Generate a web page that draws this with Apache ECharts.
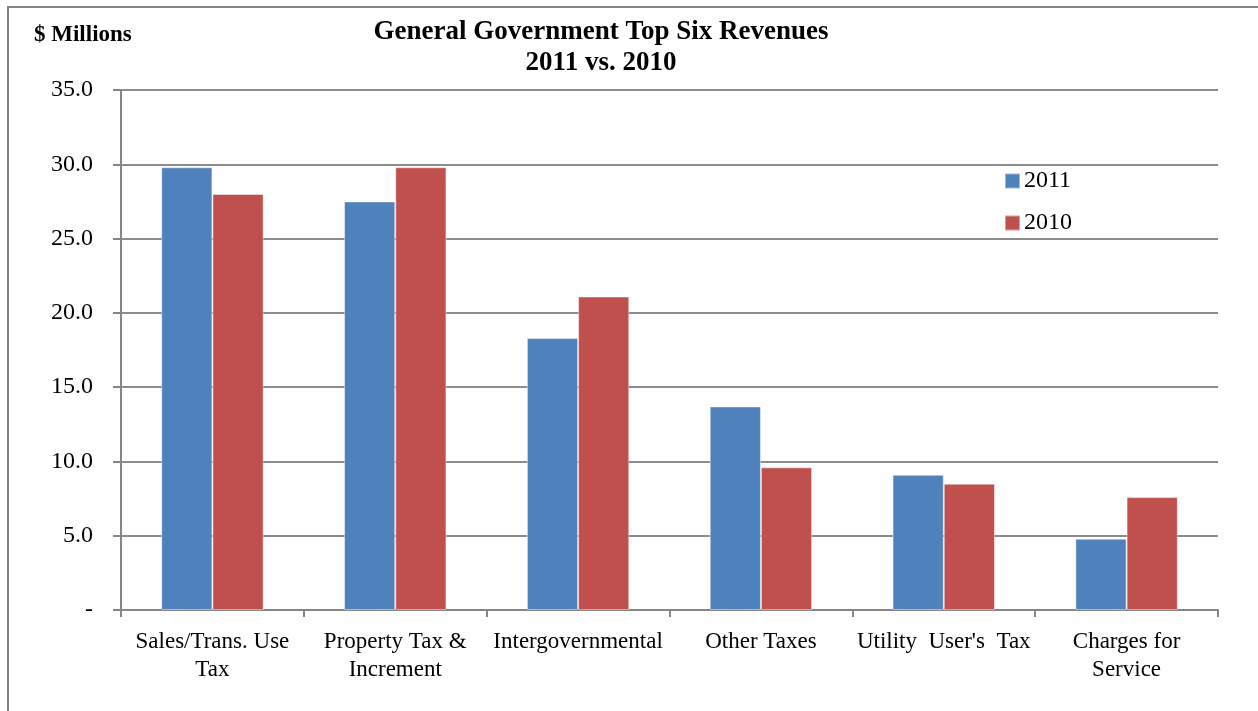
<!DOCTYPE html>
<html>
<head>
<meta charset="utf-8">
<script src="https://cdn.jsdelivr.net/npm/echarts@6/dist/echarts.min.js"></script>
<style>
  html, body { margin: 0; padding: 0; background: #fff; }
  #chart { width: 1258px; height: 711px; }
</style>
</head>
<body>
<div id="chart"></div>
<script>
// Revenue categories (x axis)
const categories = [
  'Sales/Trans. Use\nTax',
  'Property Tax &\nIncrement',
  'Intergovernmental',
  'Other Taxes',
  'Utility  User\'s  Tax',
  'Charges for\nService'
];
// Revenue in $ millions
const revenue2011 = [29.8, 27.5, 18.3, 13.7, 9.1, 4.8];
const revenue2010 = [28.0, 29.8, 21.1, 9.6, 8.5, 7.6];
const seriesNames = ['2011', '2010'];

const serif = '"Liberation Serif", "DejaVu Serif", serif';

const chart = echarts.init(document.getElementById('chart'), null, { renderer: 'canvas' });

chart.setOption({
  backgroundColor: '#fff',
  animation: false,
  title: {
    text: 'General Government Top Six Revenues\n2011 vs. 2010',
    left: 596,
    textAlign: 'center',
    top: 12,
    textStyle: {
      fontFamily: serif,
      fontWeight: 'bold',
      fontSize: 27,
      lineHeight: 31,
      color: '#000'
    }
  },
  graphic: [
    {
      type: 'rect',
      shape: { x: 8, y: 7, width: 1270, height: 720 },
      style: { fill: 'none', stroke: '#858585', lineWidth: 2 },
      silent: true
    },
    {
      type: 'text',
      left: 34,
      top: 24,
      style: {
        text: '$ Millions',
        font: 'bold 23px ' + serif,
        fill: '#000'
      }
    }
  ],
  legend: {
    orient: 'vertical',
    left: 999,
    top: 164,
    itemWidth: 15,
    itemHeight: 15,
    itemGap: 18,
    icon: 'rect',
    data: seriesNames,
    textStyle: { fontFamily: serif, fontSize: 24, color: '#000', padding: [0, 0, 0, -1] }
  },
  grid: { left: 121, right: 40, top: 90, bottom: 101 },
  xAxis: {
    type: 'category',
    data: categories,
    axisLine: { lineStyle: { color: '#868686', width: 2 } },
    axisTick: { show: true, length: 7, alignWithLabel: false, lineStyle: { color: '#868686', width: 2 } },
    axisLabel: {
      interval: 0,
      margin: 18,
      fontFamily: serif,
      fontSize: 23,
      lineHeight: 28,
      color: '#000'
    }
  },
  yAxis: {
    type: 'value',
    min: 0,
    max: 35,
    interval: 5,
    axisLine: { show: true, lineStyle: { color: '#868686', width: 2 } },
    axisTick: { show: true, length: 8, lineStyle: { color: '#868686', width: 2 } },
    splitLine: { lineStyle: { color: '#8c8c8c', width: 2 } },
    axisLabel: {
      margin: 28,
      fontFamily: serif,
      fontSize: 24,
      color: '#000',
      padding: [4, 0, 0, 0],
      formatter: v => (v === 0 ? '-' : v.toFixed(1))
    }
  },
  series: [
    {
      name: seriesNames[0],
      type: 'bar',
      data: revenue2011,
      barGap: '0%',
      barCategoryGap: '44%',
      itemStyle: { color: '#4F81BD', borderColor: 'rgba(255,255,255,0.45)', borderWidth: 1 }
    },
    {
      name: seriesNames[1],
      type: 'bar',
      data: revenue2010,
      barGap: '0%',
      barCategoryGap: '44%',
      itemStyle: { color: '#C0504D', borderColor: 'rgba(255,255,255,0.45)', borderWidth: 1 }
    }
  ]
});
</script>
</body>
</html>
